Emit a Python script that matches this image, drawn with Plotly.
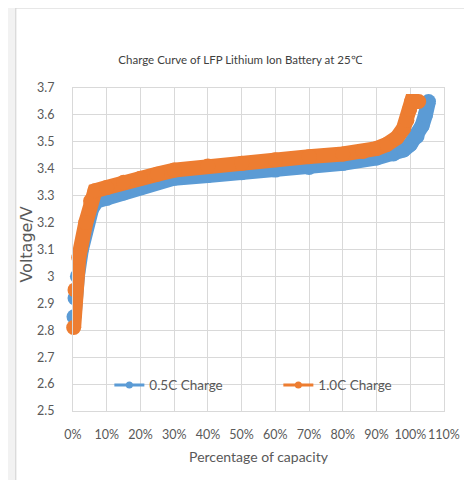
import plotly.graph_objects as go

# ---- data ----
x_05c = [0.3, 0.6, 1.3, 2.5, 4.3, 5.5, 7, 10, 15, 20, 25, 30, 40, 50, 60, 70, 80, 90, 95, 98, 100, 102, 103.5, 104.5, 105.4]
v_05c = [2.85, 2.92, 3.0, 3.1, 3.2, 3.25, 3.28, 3.29, 3.31, 3.33, 3.35, 3.365, 3.375, 3.385, 3.395, 3.405, 3.42, 3.44, 3.455, 3.47, 3.49, 3.52, 3.56, 3.60, 3.65]

x_10c = [0.2, 0.6, 1.7, 3.8, 5.2, 6.5, 10, 15, 20, 25, 30, 40, 50, 60, 70, 80, 86, 90, 93, 96, 98, 99, 99.8, 100.4, 102.5]
v_10c = [2.81, 2.95, 3.07, 3.2, 3.28, 3.318, 3.33, 3.35, 3.365, 3.38, 3.395, 3.41, 3.42, 3.433, 3.445, 3.455, 3.464, 3.475, 3.49, 3.515, 3.55, 3.58, 3.62, 3.65, 3.65]

series_names = ["0.5C Charge", "1.0C Charge"]
x_tick_vals = [0, 10, 20, 30, 40, 50, 60, 70, 80, 90, 100, 110]
x_tick_text = ["0%", "10%", "20%", "30%", "40%", "50%", "60%", "70%", "80%", "90%", "100%", "110%"]
y_tick_vals = [2.5, 2.6, 2.7, 2.8, 2.9, 3.0, 3.1, 3.2, 3.3, 3.4, 3.5, 3.6, 3.7]
y_tick_text = ["2.5", "2.6", "2.7", "2.8", "2.9", "3", "3.1", "3.2", "3.3", "3.4", "3.5", "3.6", "3.7"]

title_text = "Charge Curve of LFP Lithium Ion Battery at 25\u2103"
x_title = "Percentage of capacity"
y_title = "Voltage/V"

BLUE = "#5B9BD5"
ORANGE = "#ED7D31"
GRID = "#D9D9D9"
TXT = "#595959"
FONT = "Lato, sans-serif"

# page body has an 8px margin, so the figure is 8px smaller in each direction
W, H = 464, 472
L, R, T, B = 64.5, 20, 80, 69
PW, PH = W - L - R, H - T - B

fig = go.Figure()
for xs, ys, col in [(x_05c, v_05c, BLUE), (x_10c, v_10c, ORANGE)]:
    fig.add_trace(go.Scatter(x=xs, y=ys, mode="lines+markers",
                             line=dict(color=col, width=15),
                             marker=dict(color=col, size=15),
                             showlegend=False, hoverinfo="skip", cliponaxis=False))
# legend entries (thin line + small marker like the reference)
for name, col in zip(series_names, [BLUE, ORANGE]):
    fig.add_trace(go.Scatter(x=[None], y=[None], mode="lines+markers", name=name,
                             line=dict(color=col, width=3),
                             marker=dict(color=col, size=7)))

fig.update_layout(
    width=W, height=H,
    margin=dict(l=L, r=R, t=T, b=B, pad=0),
    paper_bgcolor="#F2F2F2",
    plot_bgcolor="rgba(0,0,0,0)",
    font=dict(family=FONT, color=TXT, size=13),
    title=dict(text=title_text, x=232 / W, xref="container", y=1 - 52 / H, yref="container",
               xanchor="center", yanchor="middle",
               font=dict(family=FONT, size=11.5, color="#404040")),
    showlegend=True,
    legend=dict(orientation="h", x=0.098, xanchor="left", y=0.08, yanchor="middle",
                bgcolor="rgba(0,0,0,0)", font=dict(family=FONT, size=13.5, color=TXT),
                entrywidth=124, entrywidthmode="pixels"),
    shapes=[dict(type="rect", xref="paper", yref="paper", layer="below",
                 x0=(6 - L) / PW, x1=1 + (R + 20) / PW, y0=-(B + 20) / PH, y1=1 + T / PH,
                 fillcolor="white", line=dict(color="#D0D0D0", width=1))],
    annotations=[dict(text=y_title, textangle=-90, showarrow=False,
                      xref="paper", yref="paper", x=(16 - L) / PW, y=1 - (237 - T) / PH,
                      xanchor="center", yanchor="middle",
                      font=dict(family="DejaVu Sans", size=16, color=TXT))],
)
fig.update_xaxes(range=[0, 110], tickvals=x_tick_vals, ticktext=x_tick_text,
                 tickangle=0, tickfont=dict(size=12.5),
                 showgrid=True, gridcolor=GRID, gridwidth=1, zeroline=False,
                 showline=True, linecolor=GRID, mirror=True, ticks="",
                 ticklabelstandoff=12,
                 title=dict(text=x_title, standoff=11, font=dict(family=FONT, size=14, color=TXT)))
fig.update_yaxes(range=[2.5, 3.7], tickvals=y_tick_vals, ticktext=y_tick_text,
                 tickfont=dict(size=12.5),
                 showgrid=True, gridcolor=GRID, gridwidth=1, zeroline=False,
                 showline=True, linecolor=GRID, mirror=True, ticks="",
                 ticklabelstandoff=15)

fig.write_html("out.html")
